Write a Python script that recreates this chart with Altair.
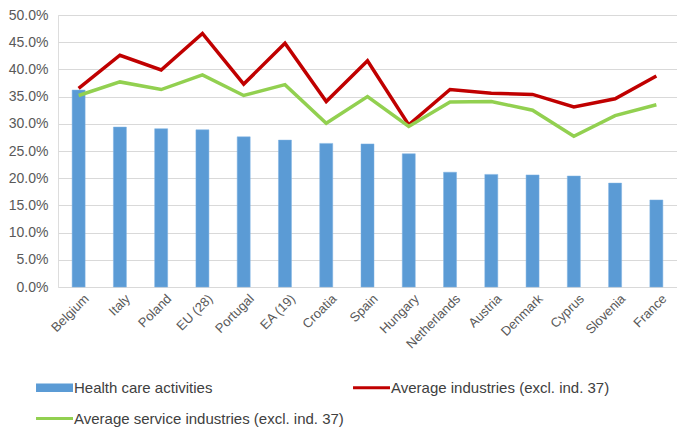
import altair as alt
import pandas as pd

countries = ["Belgium", "Italy", "Poland", "EU (28)", "Portugal", "EA (19)", "Croatia",
             "Spain", "Hungary", "Netherlands", "Austria", "Denmark", "Cyprus", "Slovenia", "France"]
health = [36.2, 29.4, 29.1, 28.9, 27.6, 27.0, 26.4, 26.3, 24.5, 21.1, 20.7, 20.6, 20.4, 19.1, 16.0]
avg_ind = [36.5, 42.6, 39.9, 46.6, 37.3, 44.8, 34.1, 41.6, 29.8, 36.3, 35.6, 35.4, 33.1, 34.6, 38.8]
avg_serv = [35.2, 37.7, 36.3, 39.0, 35.2, 37.2, 30.1, 35.0, 29.5, 34.0, 34.1, 32.5, 27.7, 31.5, 33.5]

series_names = ["Health care activities", "Average industries (excl. ind. 37)",
                "Average service industries  (excl. ind. 37)"]
series_colors = ["#5B9BD5", "#C00000", "#92D050"]
legend_shapes = ["M-1.55,-0.3H1V0.3H-1.55Z", "M-1.55,-0.1H1V0.1H-1.55Z", "M-1.55,-0.1H1V0.1H-1.55Z"]

rows = []
for name, vals in zip(series_names, [health, avg_ind, avg_serv]):
    for c, v in zip(countries, vals):
        rows.append({"country": c, "series": name, "value": v / 100})
df = pd.DataFrame(rows)

color_scale = alt.Scale(domain=series_names, range=series_colors)
shape_scale = alt.Scale(domain=series_names, range=legend_shapes)
legend = alt.Legend(
    title=None, orient="none", legendX=-14, legendY=358, columns=2, direction="horizontal",
    columnPadding=4, rowPadding=8, symbolSize=841, labelFontSize=15,
    labelColor="#404040", labelFont="Liberation Sans", labelOffset=1,
    labelLimit=400, symbolStrokeWidth=0, symbolOpacity=1, values=series_names,
)

x = alt.X("country:N", sort=countries, title=None,
          scale=alt.Scale(paddingInner=0, paddingOuter=0),
          axis=alt.Axis(labelAngle=-45, labelFontSize=13, labelColor="#595959",
                        labelFont="Liberation Sans", ticks=False, domain=False,
                        labelPadding=5, labelOffset=4))
y = alt.Y("value:Q", title=None,
          scale=alt.Scale(domain=[0, 0.5], nice=False),
          axis=alt.Axis(format=".1%", values=[i * 0.05 for i in range(11)],
                        labelFontSize=14, labelColor="#595959", labelFont="Liberation Sans",
                        ticks=False, domain=False, gridColor="#D9D9D9", labelPadding=10))

color = alt.Color("series:N", scale=color_scale, legend=legend)

bars = alt.Chart(df).transform_filter(
    alt.datum.series == series_names[0]
).mark_bar(size=13, stroke="#7fb3e3", strokeWidth=0.5).encode(x=x, y=y, color=color)

lines = alt.Chart(df).transform_filter(
    alt.datum.series != series_names[0]
).mark_line(strokeWidth=3.5).encode(x=x, y=y, color=color, detail="series:N")

keys = alt.Chart(df).mark_point(filled=True, opacity=1, size=0).encode(
    x=x, y=y, color=color,
    shape=alt.Shape("series:N", scale=shape_scale, legend=legend),
)

chart = alt.layer(bars, lines, keys).properties(
    width=619, height=272,
    padding={"left": 0, "top": 0, "right": 0, "bottom": 0},
).configure_view(stroke=None).configure(background="white")

chart.save("out.html", embed_options={"renderer": "svg", "actions": False})
